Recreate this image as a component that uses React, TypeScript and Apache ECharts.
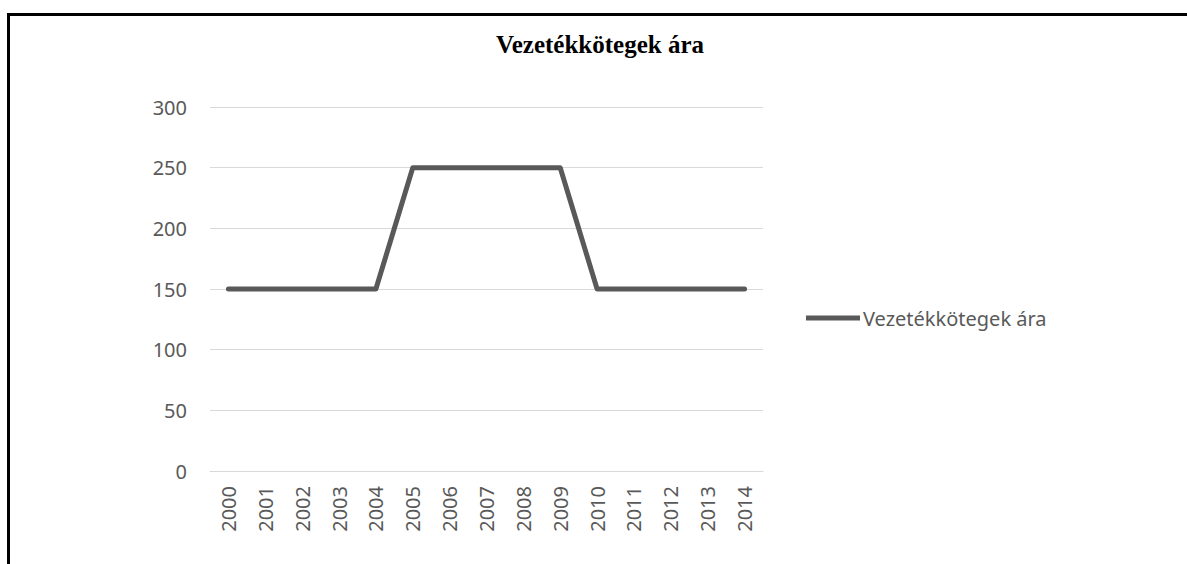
import React, { useEffect, useRef } from "react";
import * as echarts from "echarts";

const years = ["2000","2001","2002","2003","2004","2005","2006","2007","2008","2009","2010","2011","2012","2013","2014"];
const prices = [150,150,150,150,150,250,250,250,250,250,150,150,150,150,150];
const seriesName = "Vezetékkötegek ára";
const titleText = "Vezetékkötegek ára";

export default function App() {
  const ref = useRef<HTMLDivElement>(null);
  useEffect(() => {
    if (!ref.current) return;
    const chart = echarts.init(ref.current, null, { renderer: "svg" });
    const labelFont = "Noto Sans";
    chart.setOption({
      animation: false,
      backgroundColor: "#ffffff",
      title: {
        text: titleText,
        left: 595,
        textAlign: "center",
        top: 27,
        textStyle: { fontFamily: "Liberation Serif", fontWeight: "bold", fontSize: 25, color: "#000" },
      },
      graphic: [
        { type: "rect", shape: { x: 7, y: 13, width: 1180, height: 3 }, style: { fill: "#000" } },
        { type: "rect", shape: { x: 7, y: 13, width: 3, height: 551 }, style: { fill: "#000" } },
      ],
      legend: {
        left: 801,
        top: 303,
        icon: "rect",
        itemWidth: 54,
        itemHeight: 5,
        itemGap: 0,
        textStyle: { fontFamily: labelFont, fontSize: 20, color: "#595959", padding: [0, 0, 0, -2] },
        data: [seriesName],
      },
      grid: { left: 210, right: 1187 - 763, top: 107, bottom: 93, containLabel: false },
      xAxis: {
        type: "category",
        data: years,
        boundaryGap: true,
        axisLine: { show: true, lineStyle: { color: "#d9d9d9", width: 1 } },
        axisTick: { show: false },
        axisLabel: { rotate: 90, margin: 15, fontFamily: labelFont, fontSize: 20, color: "#595959" },
      },
      yAxis: {
        type: "value",
        min: 0,
        max: 300,
        interval: 50,
        axisLine: { show: false },
        axisTick: { show: false },
        splitLine: { lineStyle: { color: "#d9d9d9", width: 1 } },
        axisLabel: { margin: 23, fontFamily: labelFont, fontSize: 20, color: "#595959" },
      },
      series: [
        {
          name: seriesName,
          type: "line",
          data: prices,
          showSymbol: false,
          symbol: "none",
          lineStyle: { color: "#595959", width: 5, cap: "round", join: "round" },
          itemStyle: { color: "#595959" },
        },
      ],
    });
    return () => chart.dispose();
  }, []);
  return <div ref={ref} style={{ position: "fixed", left: 0, top: 0, width: 1187, height: 564 }} />;
}
